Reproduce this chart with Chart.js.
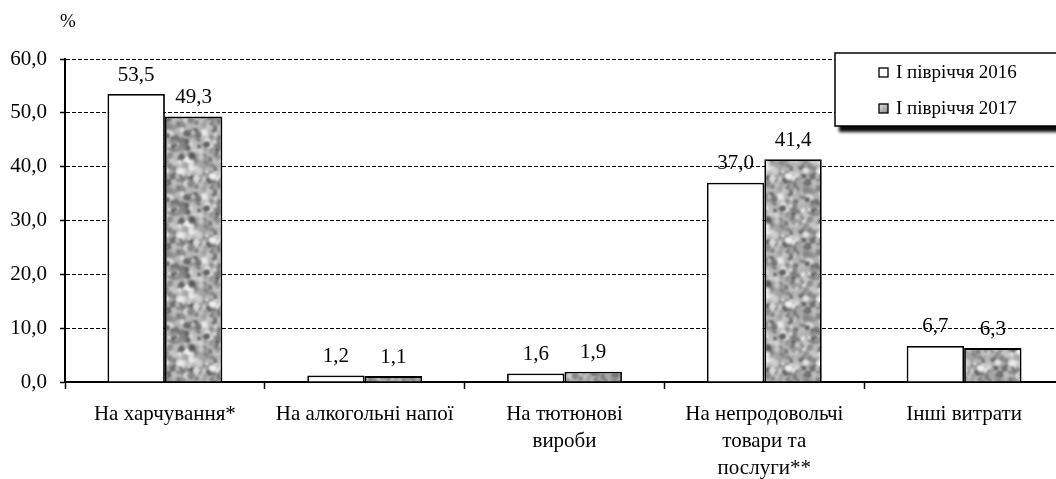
<!DOCTYPE html>
<html>
<head>
<meta charset="utf-8">
<script src="https://cdn.jsdelivr.net/npm/chart.js@4.4.1/dist/chart.umd.min.js"></script>
<style>
  html, body { margin: 0; padding: 0; background: #fff; overflow: hidden; }
  #wrap { width: 1070px; height: 479px; position: relative; }
</style>
</head>
<body>
<div id="wrap"><canvas id="chart"></canvas></div>
<script>
// ── Data ──
var CATEGORIES = [
  'На харчування*',
  'На алкогольні напої',
  ['На тютюнові', 'вироби'],
  ['На непродовольчі', 'товари та', 'послуги**'],
  'Інші витрати'
];
var SERIES_2016 = [53.5, 1.2, 1.6, 37.0, 6.7];
var SERIES_2017 = [49.3, 1.1, 1.9, 41.4, 6.3];
var SERIES_LABELS = ['І півріччя 2016', 'І півріччя 2017'];
var Y_UNIT = '%';

var FONT = '"Liberation Serif", "Times New Roman", serif';

function fmt(v) { return v.toFixed(1).replace('.', ','); }

// Mottled grey fill, like the scanned texture (deterministic, style only)
function makeTexture() {
  var size = 64;
  var tile = document.createElement('canvas');
  tile.width = size; tile.height = size;
  var t = tile.getContext('2d');
  t.fillStyle = '#b4b4b4';
  t.fillRect(0, 0, size, size);
  var seed = 11;
  function rnd() { seed = (seed * 16807) % 2147483647; return seed / 2147483647; }
  for (var i = 0; i < 320; i++) {
    var x = rnd() * size, y = rnd() * size, r = 1.2 + rnd() * 2.6;
    var shade = Math.round(90 + rnd() * 150);
    t.fillStyle = 'rgb(' + shade + ',' + shade + ',' + shade + ')';
    for (var dx = -size; dx <= size; dx += size) {
      for (var dy = -size; dy <= size; dy += size) {
        t.beginPath(); t.arc(x + dx, y + dy, r, 0, Math.PI * 2); t.fill();
      }
    }
  }
  // tile 3x3 first, then blur the whole sheet once and keep the centre
  var sheet = document.createElement('canvas');
  sheet.width = size * 3; sheet.height = size * 3;
  var s = sheet.getContext('2d');
  for (var ix = 0; ix < 3; ix++) {
    for (var iy = 0; iy < 3; iy++) s.drawImage(tile, ix * size, iy * size);
  }
  var blurred = document.createElement('canvas');
  blurred.width = size * 3; blurred.height = size * 3;
  var b = blurred.getContext('2d');
  b.filter = 'blur(1.1px)';
  b.drawImage(sheet, 0, 0);
  var out = document.createElement('canvas');
  out.width = size; out.height = size;
  out.getContext('2d').drawImage(blurred, size, size, size, size, 0, 0, size, size);
  return out;
}

var ctx = document.getElementById('chart').getContext('2d');
var texture = ctx.createPattern(makeTexture(), 'repeat');

// ── Plugins ──
var valueLabels = {
  id: 'valueLabels',
  afterDatasetsDraw: function (chart) {
    var c = chart.ctx;
    c.save();
    c.font = '21px ' + FONT;
    c.fillStyle = '#000';
    c.textAlign = 'center';
    c.textBaseline = 'middle';
    chart.data.datasets.forEach(function (ds, di) {
      chart.getDatasetMeta(di).data.forEach(function (bar, i) {
        c.fillText(fmt(ds.data[i]), bar.x, bar.y - 19);
      });
    });
    c.restore();
  }
};

var boxLegend = {
  id: 'boxLegend',
  afterDraw: function (chart) {
    var c = chart.ctx;
    var x = 835, y = 53, w = 240, h = 73;
    c.save();
    c.shadowColor = 'rgba(0,0,0,0.95)';
    c.shadowOffsetX = 4;
    c.shadowOffsetY = 6;
    c.shadowBlur = 3;
    c.fillStyle = '#fff';
    c.fillRect(x, y, w, h);
    c.shadowColor = 'transparent';
    c.lineWidth = 1.5;
    c.strokeStyle = '#000';
    c.strokeRect(x, y, w, h);

    c.font = '19px ' + FONT;
    c.textBaseline = 'middle';
    c.textAlign = 'left';
    var rows = [73, 109];
    chart.data.datasets.forEach(function (ds, i) {
      var cy = rows[i];
      if (i === 0) {
        c.fillStyle = '#fff';
      } else {
        var gr = c.createLinearGradient(879, cy - 5, 888, cy + 5);
        gr.addColorStop(0, '#e8e8e8');
        gr.addColorStop(1, '#808080');
        c.fillStyle = gr;
      }
      c.fillRect(879, cy - 5, 9, 9);
      c.lineWidth = 1.3;
      c.strokeRect(879, cy - 5, 9, 9);
      c.fillStyle = '#000';
      c.fillText(ds.label, 896, cy);
    });

    c.font = '19px ' + FONT;
    c.fillText(Y_UNIT, 60, 22);
    c.restore();
  }
};

// ── Chart ──
new Chart(ctx, {
  type: 'bar',
  data: {
    labels: CATEGORIES,
    datasets: [
      {
        label: SERIES_LABELS[0],
        data: SERIES_2016,
        backgroundColor: '#fff',
        borderColor: '#000',
        borderWidth: 1.8,
        categoryPercentage: 0.575,
        barPercentage: 1.0
      },
      {
        label: SERIES_LABELS[1],
        data: SERIES_2017,
        backgroundColor: texture,
        borderColor: '#000',
        borderWidth: 1.8,
        categoryPercentage: 0.575,
        barPercentage: 1.0
      }
    ]
  },
  options: {
    responsive: true,
    maintainAspectRatio: false,
    animation: false,
    layout: { padding: { top: 59, right: 6, bottom: 0, left: 0 } },
    plugins: {
      legend: { display: false },
      tooltip: { enabled: false }
    },
    scales: {
      x: {
        grid: {
          drawOnChartArea: false,
          drawTicks: true,
          tickLength: 7,
          tickColor: '#000',
          tickWidth: 1.5,
          offset: true
        },
        border: { display: true, color: '#000', width: 2 },
        ticks: {
          color: '#000',
          font: { family: FONT, size: 21, lineHeight: 1.29 },
          padding: 12,
          maxRotation: 0,
          minRotation: 0,
          autoSkip: false
        },
        afterFit: function (scale) { scale.height = 97; }
      },
      y: {
        min: 0,
        max: 60,
        grid: {
          color: '#000',
          lineWidth: 1,
          tickLength: 5,
          tickColor: '#000',
          tickWidth: 1.5
        },
        border: { display: true, color: '#000', width: 2, dash: [4, 2] },
        ticks: {
          stepSize: 10,
          color: '#000',
          font: { family: FONT, size: 21 },
          padding: 13,
          callback: function (v) { return fmt(v); }
        },
        afterFit: function (scale) { scale.width = 65; }
      }
    }
  },
  plugins: [valueLabels, boxLegend]
});
</script>
</body>
</html>
